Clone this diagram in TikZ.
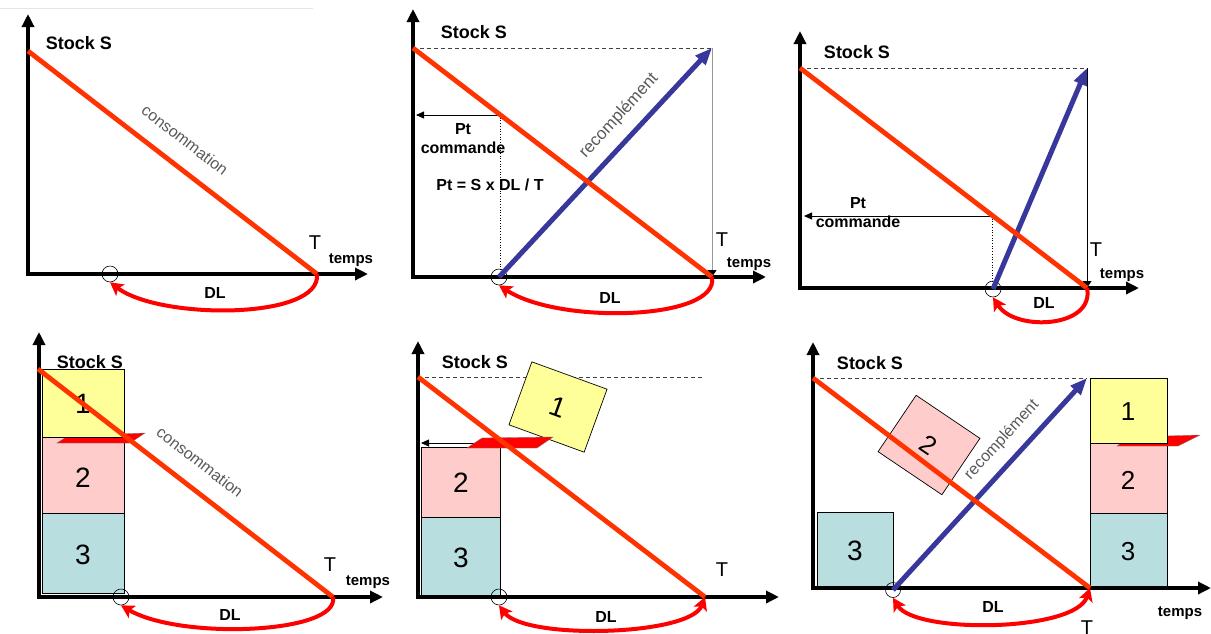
\documentclass[tikz,border=0pt]{standalone}
\usepackage{fontspec}
\setmainfont{Liberation Sans}
\usetikzlibrary{arrows.meta}
\definecolor{consred}{HTML}{FF3300}
\definecolor{dlred}{HTML}{FF0000}
\definecolor{recblue}{HTML}{38389C}
\definecolor{boxyellow}{HTML}{FFFF99}
\definecolor{boxpink}{HTML}{FFCCCC}
\definecolor{boxteal}{HTML}{B8DEE0}
\begin{document}
\begin{tikzpicture}[x=1pt,y=-1pt,
  axis/.style={line width=4.2pt, -{Triangle[length=13pt,width=12pt]}},
  cons/.style={line width=4.8pt, consred},
  recomp/.style={line width=5pt, recblue, -{Triangle[length=17pt,width=13pt]}},
  dlarc/.style={line width=4pt, dlred, -{Stealth[length=13pt,width=14pt,inset=3pt]}},
  dlarcb/.style={line width=4pt, dlred, {Stealth[length=13pt,width=14pt,inset=3pt]}-{Stealth[length=13pt,width=14pt,inset=3pt]}},
  ring/.style={draw, circle, minimum size=16pt, inner sep=0pt, line width=0.6pt},
  stocklab/.style={font=\bfseries\fontsize{18}{20}\selectfont},
  blab/.style={font=\bfseries\fontsize{16}{18}\selectfont, inner sep=0pt},
  tempslab/.style={font=\bfseries\fontsize{15}{17}\selectfont},
  tlab/.style={font=\fontsize{20}{22}\selectfont},
  difflab/.style={font=\fontsize{16}{18}\selectfont, text=black!65, inner sep=0pt},
  digit/.style={font=\fontsize{28}{30}\selectfont},
  stackbox/.style={draw, line width=0.7pt},
  tiltbox/.style={draw, line width=0.7pt, inner sep=0pt, font=\fontsize{28}{30}\selectfont},
  ptarrow/.style={line width=0.8pt, -{Triangle[length=8pt,width=7pt]}},
  guide/.style={line width=0.7pt, dotted},
  dashguide/.style={line width=0.6pt, dash pattern=on 4pt off 3pt, black!75},
  vertline/.style={line width=1pt, -{Triangle[length=7pt,width=9pt,color=black]}},
  flagshape/.style={fill=dlred, draw=black!55, line width=0.3pt}
]
\useasboundingbox (0,0) rectangle (1211,633);
\clip (0,0) rectangle (1211,633);
\fill[white] (0,0) rectangle (1211,633);
\draw[black!10, line width=0.8pt] (0,8) -- (313,8);

% ================= Panel 1 =================
\coordinate (o1) at (28,274);
\coordinate (y1) at (28,14);
\coordinate (x1) at (368,274);
\coordinate (s1) at (28,51);
\coordinate (t1) at (317,274);
\draw[axis] (o1) -- (y1);
\draw[axis] ([xshift=-2pt]o1) -- (x1);
\draw[cons] (s1) -- (t1);
\node[stocklab] (stock1) at (79,43) {Stock S};
\node[difflab, rotate=-37.7] (conso1) at (185,140) {consommation};
\node[tlab] (T1) at (315,243) {T};
\node[tempslab] (temps1) at (351,260) {temps};
\node[ring] (c1) at (110,274) {};
\node[blab] (dl1) at (215,293) {DL};
\draw[dlarc] (t1) .. controls (322,320) and (160,320) .. (c1.south);

% ================= Panel 2 =================
\coordinate (o2) at (413,277);
\coordinate (y2) at (413,9);
\coordinate (x2) at (766,277);
\coordinate (s2) at (413,48);
\coordinate (t2) at (712,277);
\coordinate (top2) at (712,48);
\coordinate (p2) at (500,115);
\coordinate (pa2) at (416,115);
\coordinate (f2) at (500,277);
\draw[dashguide] (s2) -- (top2);
\draw[vertline, black!40] (top2) -- (t2);
\draw[guide] (p2) -- (f2);
\draw[ptarrow] (p2) -- (pa2);
\draw[axis] (o2) -- (y2);
\draw[axis] ([xshift=-2pt]o2) -- (x2);
\node[ring] (c2) at (499,277) {};
\draw[recomp] (c2.center) -- (top2);
\draw[cons] (s2) -- (t2);
\node[stocklab] (stock2) at (474,32) {Stock S};
\node[difflab, font=\fontsize{17}{19}\selectfont, rotate=47.5] (rec2) at (619,116) {recomplément};
\node[blab] (pt2) at (463,129) {Pt};
\node[blab] (cmd2) at (463,148) {commande};
\node[blab] (form2) at (490,185) {Pt = S x DL / T};
\node[tlab] (T2) at (722,240) {T};
\node[tempslab] (temps2) at (749,264) {temps};
\node[blab] (dl2) at (610,298) {DL};
\draw[dlarc] (t2) .. controls (720,320) and (560,325) .. (c2.south);

% ================= Panel 3 =================
\coordinate (o3) at (800,288);
\coordinate (y3) at (800,31);
\coordinate (x3) at (1139,288);
\coordinate (s3) at (800,68);
\coordinate (t3) at (1087,288);
\coordinate (top3) at (1087,68);
\coordinate (p3) at (992,216);
\coordinate (pa3) at (804,216);
\coordinate (f3) at (992,288);
\draw[dashguide] (s3) -- (top3);
\draw[vertline, black] (top3) -- (t3);
\draw[guide] (p3) -- (f3);
\draw[ptarrow] (p3) -- (pa3);
\draw[axis] (o3) -- (y3);
\draw[axis] ([xshift=-2pt]o3) -- (x3);
\node[ring] (c3) at (993,289) {};
\draw[recomp] (c3.center) -- (top3);
\draw[cons] (s3) -- (t3);
\node[stocklab] (stock3) at (857,52) {Stock S};
\node[blab] (pt3) at (858,203) {Pt};
\node[blab] (cmd3) at (858,222) {commande};
\node[tlab] (T3) at (1096,250) {T};
\node[tempslab] (temps3) at (1122,275) {temps};
\node[blab] (dl3) at (1044,303) {DL};
\draw[dlarc] (t3) .. controls (1095,328) and (1015,332) .. (c3.south);

% ================= Panel 4 =================
\coordinate (o4) at (39,597);
\coordinate (y4) at (39,332);
\coordinate (x4) at (383,597);
\coordinate (s4) at (38,369);
\coordinate (t4) at (333,597);
\draw[stackbox, fill=boxteal] (42,513) rectangle (124,593);
\draw[stackbox, fill=boxpink] (42,437) rectangle (124,513);
\draw[flagshape] (57,443) -- (68,436) -- (145,433) -- (130,443) -- cycle;
\draw[stackbox, fill=boxyellow] (42,369) rectangle (124,437);
\node[digit] (d41) at (83,404) {1};
\node[digit] (d42) at (83,478) {2};
\node[digit] (d43) at (83,555) {3};
\draw[axis] (o4) -- (y4);
\draw[axis] ([xshift=-2pt]o4) -- (x4);
\draw[cons] (s4) -- (t4);
\node[stocklab] (stock4) at (90,362) {Stock S};
\node[difflab, rotate=-37.7] (conso4) at (200,462) {consommation};
\node[tlab] (T4) at (330,565) {T};
\node[tempslab] (temps4) at (368,582) {temps};
\node[ring] (c4) at (121,597) {};
\node[blab] (dl4) at (230,615) {DL};
\draw[dlarc] (t4) .. controls (340,634) and (180,640) .. (c4.south);

% ================= Panel 5 =================
\coordinate (o5) at (418,597);
\coordinate (y5) at (418,341);
\coordinate (x5) at (779,597);
\coordinate (s5) at (418,377);
\coordinate (t5) at (705,597);
\coordinate (d5) at (702,377);
\coordinate (p5) at (500,443);
\coordinate (pa5) at (421,443);
\draw[dashguide] (s5) -- (d5);
\draw[stackbox, fill=boxteal] (421,517) rectangle (500,597);
\draw[stackbox, fill=boxpink] (421,447) rectangle (500,517);
\draw[ptarrow] (p5) -- (pa5);
\node[digit] (d52) at (461,483) {2};
\node[digit] (d53) at (461,558) {3};
\node[tiltbox, fill=boxyellow, minimum width=80pt, minimum height=67pt, rotate=-20] (b51) at (558,407) {1};
\draw[flagshape] (467,448) -- (482,438) -- (553,437) -- (537,448) -- cycle;
\draw[axis] (o5) -- (y5);
\draw[axis] ([xshift=-2pt]o5) -- (x5);
\draw[cons] (s5) -- (t5);
\node[stocklab] (stock5) at (475,362) {Stock S};
\node[tlab] (T5) at (722,570) {T};
\node[ring] (c5) at (499,597) {};
\node[blab] (dl5) at (606,617) {DL};
\draw[dlarcb] (c5.south) .. controls (525,640) and (690,636) .. (t5);

% ================= Panel 6 =================
\coordinate (o6) at (813,588);
\coordinate (y6) at (813,342);
\coordinate (x6) at (1211,588);
\coordinate (s6) at (813,378);
\coordinate (t6) at (1090,588);
\coordinate (top6) at (1087,378);
\draw[dashguide] (s6) -- (top6);
\draw[stackbox, fill=boxteal] (817,512) rectangle (893,588);
\node[digit] (d63) at (855,551) {3};
\draw[stackbox, fill=boxteal] (1090,513) rectangle (1167,588);
\draw[stackbox, fill=boxpink] (1090,443) rectangle (1167,513);
\draw[flagshape] (1117,446) -- (1130,437) -- (1200,435) -- (1178,446) -- cycle;
\draw[stackbox, fill=boxyellow] (1090,378) rectangle (1167,443);
\node[digit, font=\fontsize{26}{28}\selectfont] (d61) at (1128,412) {1};
\node[digit, font=\fontsize{26}{28}\selectfont] (d62) at (1128,480) {2};
\node[digit, font=\fontsize{26}{28}\selectfont] (d64) at (1128,552) {3};
\node[tiltbox, fill=boxpink, minimum width=77pt, minimum height=68pt, rotate=-34, font=\fontsize{26}{28}\selectfont] (b62) at (929,445) {2};
\draw[axis] (o6) -- (y6);
\draw[axis] ([xshift=-2pt]o6) -- (x6);
\node[ring, minimum size=15pt] (c6) at (893,590) {};
\draw[recomp] (c6.center) -- (top6);
\draw[cons] (s6) -- (t6);
\node[stocklab] (stock6) at (870,363) {Stock S};
\node[difflab, rotate=47.3] (rec6) at (1002,440) {recomplément};
\node[blab] (dl6) at (993,607) {DL};
\node[tempslab] (temps6) at (1180,613) {temps};
\node[tlab] (T6) at (1087,628) {T};
\draw[dlarcb] (c6.south) .. controls (915,634) and (1075,632) .. (t6);
\end{tikzpicture}
\end{document}
